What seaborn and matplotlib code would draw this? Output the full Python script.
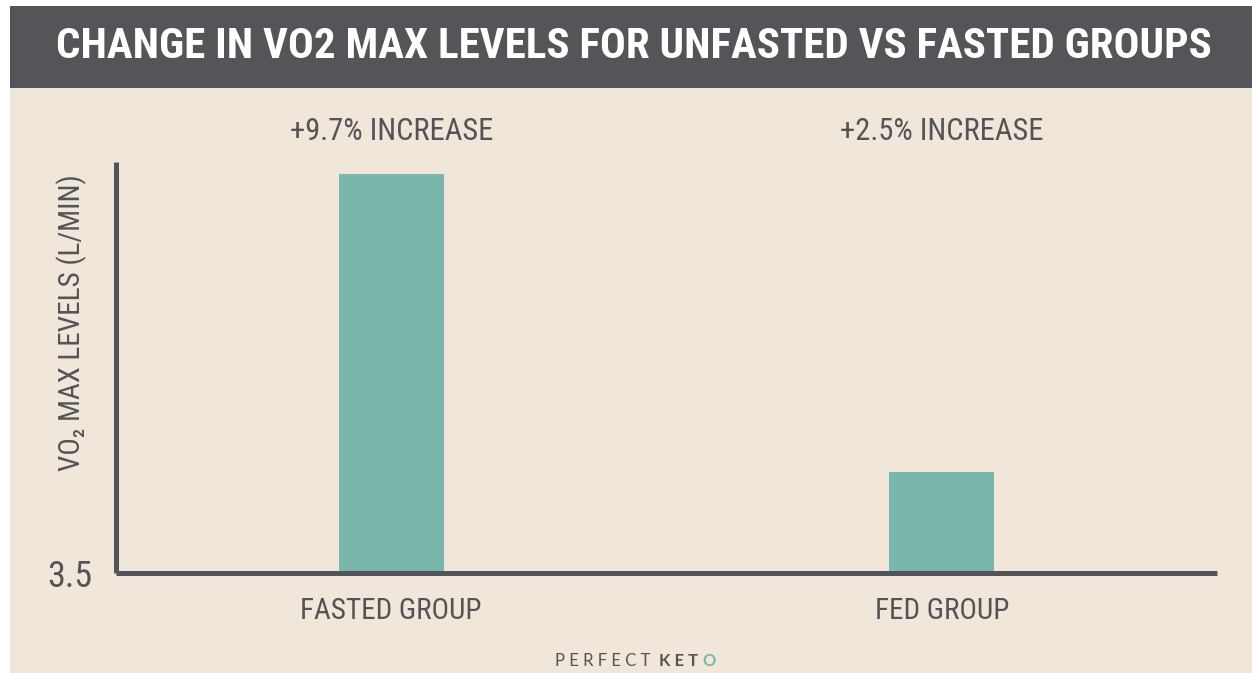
import matplotlib
matplotlib.use("Agg")
import matplotlib.pyplot as plt
from matplotlib.patches import Rectangle
import seaborn as sns
import pandas as pd

# ---- data ----
groups = ["FASTED GROUP", "FED GROUP"]
vo2_max = [3.985, 3.623]          # L/min (axis starts at 3.5)
pct_increase = [9.7, 2.5]
y_tick = [3.5]
title = "CHANGE IN VO2 MAX LEVELS FOR UNFASTED VS FASTED GROUPS"
ylabel = "VO\u2082 MAX LEVELS (L/MIN)"

# ---- style ----
BANNER = "#545559"
BEIGE = "#f0e7da"
TEAL = "#79b6ab"
INK = "#535458"

sns.set_theme(style="white")
COND = ["Roboto Condensed", "Liberation Sans Narrow", "DejaVu Sans"]
plt.rcParams["font.family"] = COND

W, H = 1252, 673
fig = plt.figure(figsize=(W / 100, H / 100), dpi=100, facecolor="white")

def fx(x):
    return x / W

def fy(y):
    return 1 - y / H

# background panels
fig.patches.append(Rectangle((fx(10), fy(673)), fx(1252) - fx(10), fy(88) - fy(673),
                             transform=fig.transFigure, facecolor=BEIGE, edgecolor="none", zorder=-2))
fig.patches.append(Rectangle((fx(10), fy(88)), fx(1252) - fx(10), fy(6) - fy(88),
                             transform=fig.transFigure, facecolor=BANNER, edgecolor="none", zorder=-1))

fig.text(fx(634), fy(47), title, ha="center", va="center", color="white",
         fontsize=31, fontweight="bold", family=COND)

ax = fig.add_axes([fx(116), fy(573), fx(1217) - fx(116), fy(162) - fy(573)])
ax.set_facecolor("none")

df = pd.DataFrame({"group": groups, "vo2": vo2_max})
sns.barplot(data=df, x="group", y="vo2", color=TEAL, saturation=1, width=0.19,
            linewidth=0, edgecolor="none", ax=ax)

ax.set_ylim(3.5, 4.0)
ax.set_xlim(-0.5, 1.5)
ax.set_yticks(y_tick)
ax.set_yticklabels([f"{v}" for v in y_tick])
ax.tick_params(axis="y", length=0, pad=17, labelsize=26, labelcolor=INK)
ax.tick_params(axis="x", length=0, pad=17, labelsize=21, labelcolor=INK)
ax.set_xlabel("")
ax.set_ylabel(ylabel, fontsize=21, color=INK, va="center")
ax.yaxis.set_label_coords((72 - 116) / 1101, (573 - 323) / 411)

for side in ["top", "right"]:
    ax.spines[side].set_visible(False)
for side in ["left", "bottom"]:
    ax.spines[side].set_color(INK)
    ax.spines[side].set_linewidth(3.6)
    ax.spines[side].set_capstyle("butt")

for i, p in enumerate(pct_increase):
    ax.text(i, (573 - 131) / 411, f"+{p}% INCREASE", transform=ax.get_xaxis_transform(),
            ha="center", va="center", fontsize=22, color=INK, clip_on=False)

# footer logo
LOGO = ["Lato", "DejaVu Sans"]
t1 = fig.text(fx(555), fy(666), "P E R F E C T  ", ha="left", va="baseline",
              fontsize=12, color=INK, family=LOGO)
t2 = fig.text(0, 0, "K E T ", fontsize=12, color=INK, fontweight="bold", family=LOGO)
t3 = fig.text(0, 0, "O", fontsize=12, color=TEAL, fontweight="bold", family=LOGO)
fig.canvas.draw()
r = fig.canvas.get_renderer()
bb1 = t1.get_window_extent(r)
t2.set_position((bb1.x1 / W, fy(666)))
t2.set_va("baseline")
fig.canvas.draw()
bb2 = t2.get_window_extent(r)
t3.set_position((bb2.x1 / W, fy(666)))
t3.set_va("baseline")

fig.savefig("out.png", dpi=100, facecolor="white")
